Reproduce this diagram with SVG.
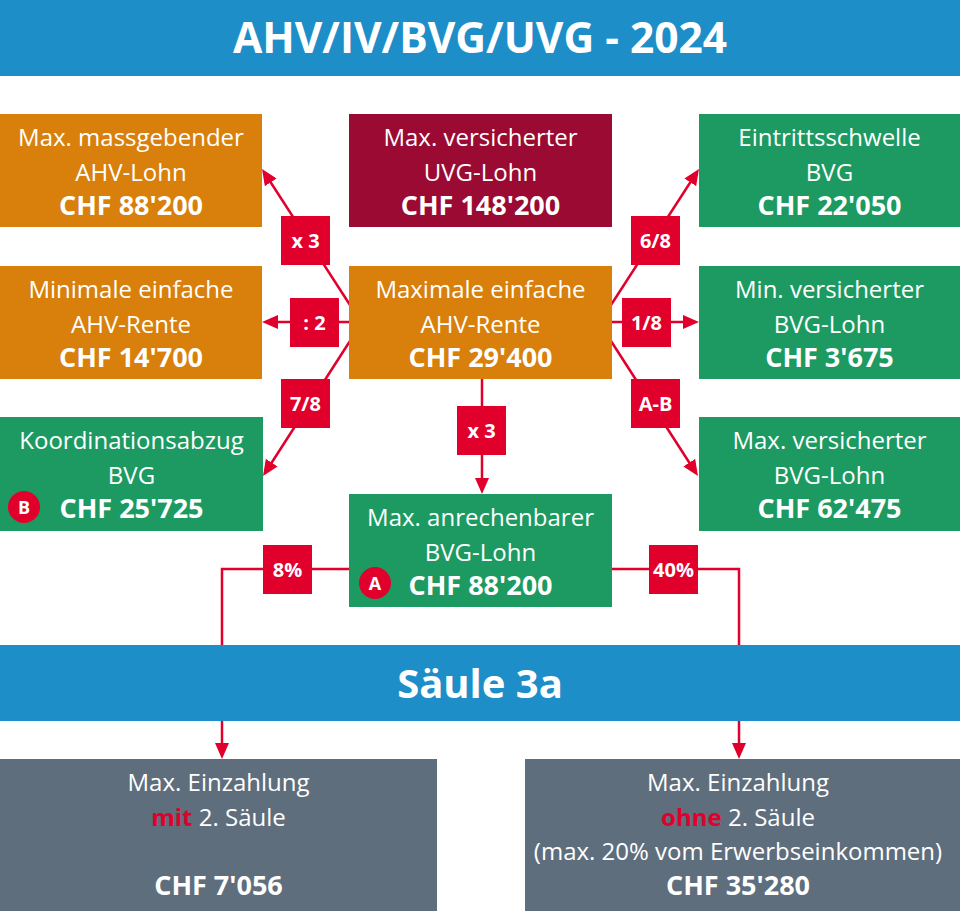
<svg xmlns="http://www.w3.org/2000/svg" width="960" height="911" viewBox="0 0 960 911">
<defs>
<style>
.t{font-family:"Open Sans","Noto Sans","Liberation Sans",sans-serif;font-size:24px;fill:#fff;text-anchor:middle}
.b{font-weight:bold;font-size:27px}
.h{font-family:"Open Sans","Noto Sans","Liberation Sans",sans-serif;font-weight:bold;font-size:40px;fill:#fff;text-anchor:middle}
.ht{font-size:42.5px}
.l{font-family:"Open Sans","Noto Sans","Liberation Sans",sans-serif;font-weight:bold;font-size:20px;fill:#fff;text-anchor:middle}
.c{font-family:"Open Sans","Noto Sans","Liberation Sans",sans-serif;font-weight:bold;font-size:18px;fill:#fff;text-anchor:middle}
.or{fill:#d87f0c}.dr{fill:#9a0a33}.gr{fill:#1d9a62}.gy{fill:#5e6e7d}.bl{fill:#1e8ec9}.rd{fill:#e1002b}
.ln{fill:none;stroke:#e1002b;stroke-width:2.5}
.red{fill:#e1002b}
</style>
<marker id="ah" markerUnits="userSpaceOnUse" markerWidth="16" markerHeight="14" viewBox="0 0 16 14" refX="10" refY="7" orient="auto">
<path d="M0,0 L16,7 L0,14 z" fill="#e1002b"/>
</marker>
</defs>
<rect width="960" height="911" fill="#fff"/>
<g id="header">
<rect class="bl" x="0" y="0" width="960" height="76"/>
<text class="h ht" x="480" y="53">AHV/IV/BVG/UVG - 2024</text>
</g>
<g id="connectors">
<line class="ln" x1="350" y1="305" x2="265.3" y2="174" marker-end="url(#ah)"/>
<line class="ln" x1="350" y1="322" x2="268" y2="322" marker-end="url(#ah)"/>
<line class="ln" x1="350" y1="341" x2="266.3" y2="471" marker-end="url(#ah)"/>
<line class="ln" x1="611" y1="305" x2="695.7" y2="174" marker-end="url(#ah)"/>
<line class="ln" x1="611" y1="322" x2="693" y2="322" marker-end="url(#ah)"/>
<line class="ln" x1="611" y1="341" x2="694.7" y2="471" marker-end="url(#ah)"/>
<line class="ln" x1="482" y1="379" x2="482" y2="488" marker-end="url(#ah)"/>
<path class="ln" d="M349,569 H222 V753" marker-end="url(#ah)"/>
<path class="ln" d="M611,569 H739 V753" marker-end="url(#ah)"/>
</g>
<g id="n-ahv-lohn">
<rect class="or" x="0" y="114" width="262" height="113"/>
<text class="t" x="131" y="146">Max. massgebender</text>
<text class="t" x="131" y="181">AHV-Lohn</text>
<text class="t b" x="131" y="215">CHF 88'200</text>
</g>
<g id="n-uvg">
<rect class="dr" x="349" y="114" width="263" height="113"/>
<text class="t" x="480.5" y="146">Max. versicherter</text>
<text class="t" x="480.5" y="181">UVG-Lohn</text>
<text class="t b" x="480.5" y="215">CHF 148'200</text>
</g>
<g id="n-eintritt">
<rect class="gr" x="699" y="114" width="261" height="113"/>
<text class="t" x="829.5" y="146">Eintrittsschwelle</text>
<text class="t" x="829.5" y="181">BVG</text>
<text class="t b" x="829.5" y="215">CHF 22'050</text>
</g>
<g id="n-min-rente">
<rect class="or" x="0" y="266" width="262" height="113"/>
<text class="t" x="131" y="298">Minimale einfache</text>
<text class="t" x="131" y="333">AHV-Rente</text>
<text class="t b" x="131" y="367">CHF 14'700</text>
</g>
<g id="n-max-rente">
<rect class="or" x="349" y="266" width="263" height="113"/>
<text class="t" x="480.5" y="298">Maximale einfache</text>
<text class="t" x="480.5" y="333">AHV-Rente</text>
<text class="t b" x="480.5" y="367">CHF 29'400</text>
</g>
<g id="n-min-bvg">
<rect class="gr" x="699" y="266" width="261" height="113"/>
<text class="t" x="829.5" y="298">Min. versicherter</text>
<text class="t" x="829.5" y="333">BVG-Lohn</text>
<text class="t b" x="829.5" y="367">CHF 3'675</text>
</g>
<g id="n-koord">
<rect class="gr" x="0" y="417" width="263" height="114"/>
<text class="t" x="131.5" y="449">Koordinationsabzug</text>
<text class="t" x="131.5" y="484">BVG</text>
<circle class="red" cx="24" cy="507" r="16"/>
<text class="c" x="24" y="513.5">B</text>
<text class="t b" x="131.5" y="518">CHF 25'725</text>
</g>
<g id="n-max-bvg">
<rect class="gr" x="699" y="417" width="261" height="114"/>
<text class="t" x="829.5" y="449">Max. versicherter</text>
<text class="t" x="829.5" y="484">BVG-Lohn</text>
<text class="t b" x="829.5" y="518">CHF 62'475</text>
</g>
<g id="n-anrechenbar">
<rect class="gr" x="349" y="494" width="263" height="113"/>
<text class="t" x="480.5" y="526">Max. anrechenbarer</text>
<text class="t" x="480.5" y="561">BVG-Lohn</text>
<circle class="red" cx="375" cy="583" r="16"/>
<text class="c" x="375" y="589.5">A</text>
<text class="t b" x="480.5" y="595">CHF 88'200</text>
</g>
<g id="labels">
<rect class="rd" x="281" y="216" width="49" height="49"/><text class="l" x="305.5" y="247.5">x 3</text>
<rect class="rd" x="290" y="298" width="49" height="49"/><text class="l" x="314.5" y="329.5">: 2</text>
<rect class="rd" x="281" y="379" width="49" height="49"/><text class="l" x="305.5" y="410.5">7/8</text>
<rect class="rd" x="631" y="216" width="49" height="49"/><text class="l" x="655.5" y="247.5">6/8</text>
<rect class="rd" x="622" y="298" width="49" height="49"/><text class="l" x="646.5" y="329.5">1/8</text>
<rect class="rd" x="631" y="379" width="49" height="49"/><text class="l" x="655.5" y="410.5">A-B</text>
<rect class="rd" x="457" y="406" width="49" height="49"/><text class="l" x="481.5" y="437.5">x 3</text>
<rect class="rd" x="263" y="545" width="49" height="49"/><text class="l" x="287.5" y="576.5">8%</text>
<rect class="rd" x="649" y="545" width="49" height="49"/><text class="l" x="673.5" y="576.5">40%</text>
</g>
<g id="saeule">
<rect class="bl" x="0" y="645" width="960" height="76"/>
<text class="h" x="480" y="698">Säule 3a</text>
</g>
<g id="n-mit">
<rect class="gy" x="0" y="759" width="437" height="152"/>
<text class="t" x="218.5" y="791">Max. Einzahlung</text>
<text class="t" x="218.5" y="826"><tspan fill="#e1002b" font-weight="bold">mit</tspan> 2. Säule</text>
<text class="t b" x="218.5" y="895">CHF 7'056</text>
</g>
<g id="n-ohne">
<rect class="gy" x="525" y="759" width="435" height="152"/>
<text class="t" x="738" y="791">Max. Einzahlung</text>
<text class="t" x="738" y="826"><tspan fill="#e1002b" font-weight="bold">ohne</tspan> 2. Säule</text>
<text class="t" x="738" y="860">(max. 20% vom Erwerbseinkommen)</text>
<text class="t b" x="738" y="895">CHF 35'280</text>
</g>
</svg>
